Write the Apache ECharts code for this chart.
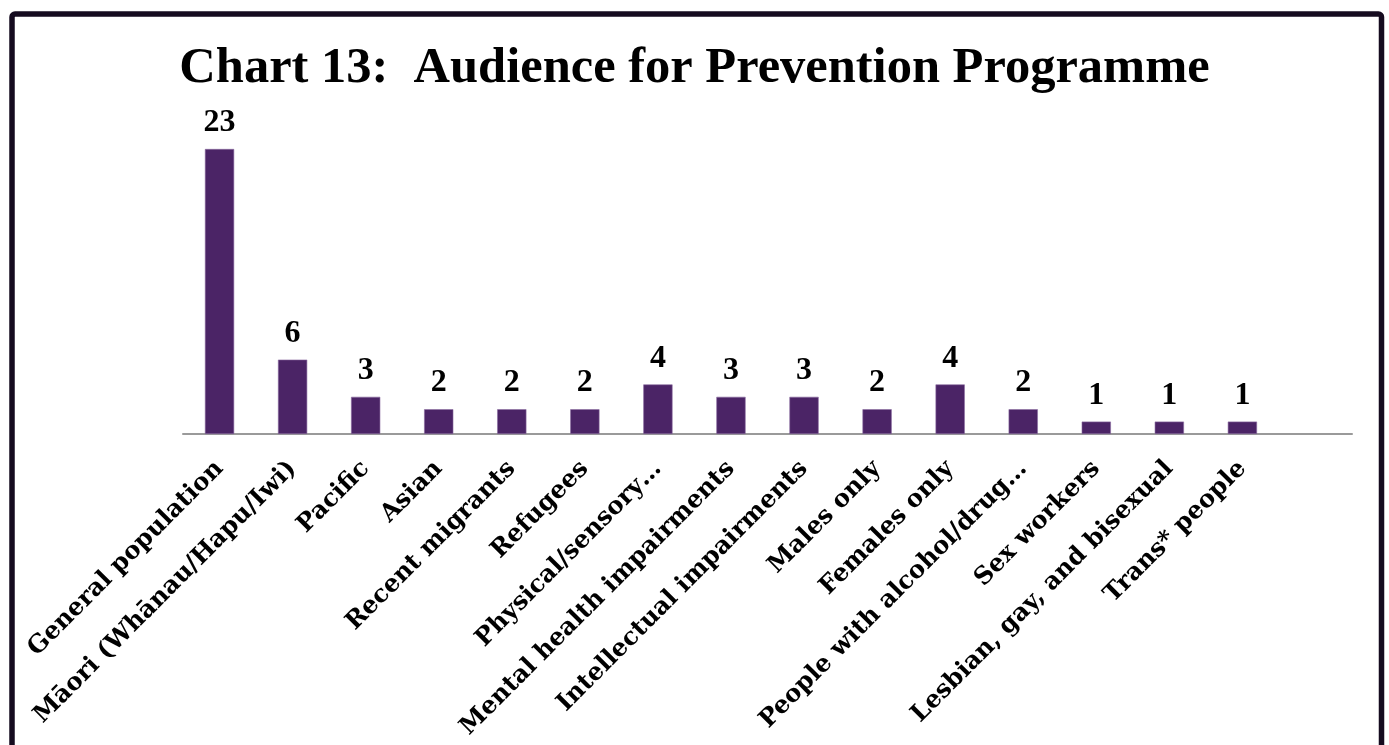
<!DOCTYPE html>
<html>
<head>
<meta charset="utf-8">
<script src="https://cdn.jsdelivr.net/npm/echarts@6/dist/echarts.min.js"></script>
<style>
  html, body { margin: 0; padding: 0; background: #ffffff; }
  #chart { width: 1389px; height: 745px; }
</style>
</head>
<body>
<div id="chart"></div>
<script>
// Audience groups for prevention programmes (last slot left empty)
const categories = [
  'General population',
  'Māori (Whānau/Hapu/Iwi)',
  'Pacific',
  'Asian',
  'Recent migrants',
  'Refugees',
  'Physical/sensory…',
  'Mental health impairments',
  'Intellectual impairments',
  'Males only',
  'Females only',
  'People with alcohol/drug…',
  'Sex workers',
  'Lesbian, gay, and bisexual',
  'Trans* people',
  ''
];
const counts = [23, 6, 3, 2, 2, 2, 4, 3, 3, 2, 4, 2, 1, 1, 1, null];
const titleText = 'Chart 13:  Audience for Prevention Programme';

const serif = '"Liberation Serif", "DejaVu Serif", serif';
const labelSerif = '"DejaVu Serif", "Liberation Serif", serif';

const chart = echarts.init(document.getElementById('chart'));
chart.setOption({
  animation: false,
  backgroundColor: '#ffffff',
  title: {
    text: titleText,
    left: 'center',
    top: 38,
    textStyle: {
      fontFamily: serif,
      fontWeight: 'bold',
      fontSize: 50.5,
      color: '#000000'
    }
  },
  graphic: [{
    type: 'rect',
    shape: { x: 12, y: 14, width: 1369.5, height: 800, r: 3 },
    style: { fill: 'none', stroke: '#150b1f', lineWidth: 5.5 },
    silent: true,
    z: 100
  }],
  grid: { left: 183, right: 37, top: 149, bottom: 311, containLabel: false },
  xAxis: {
    type: 'category',
    data: categories,
    axisLine: { show: true, lineStyle: { color: '#9a9a9a', width: 2 } },
    axisTick: { show: false },
    axisLabel: {
      interval: 0,
      rotate: 45,
      margin: 31,
      fontFamily: labelSerif,
      fontWeight: 'bold',
      fontSize: 24.5,
      color: '#000000'
    }
  },
  yAxis: {
    type: 'value',
    min: 0,
    max: 23,
    show: false,
    splitLine: { show: false }
  },
  series: [{
    type: 'bar',
    data: counts,
    barWidth: '40%',
    itemStyle: { color: '#4b2466', borderColor: '#8a6aa0', borderWidth: 0.6 },
    label: {
      show: true,
      position: 'top',
      distance: 10,
      fontFamily: serif,
      fontWeight: 'bold',
      fontSize: 32,
      color: '#000000'
    }
  }]
});
</script>
</body>
</html>
